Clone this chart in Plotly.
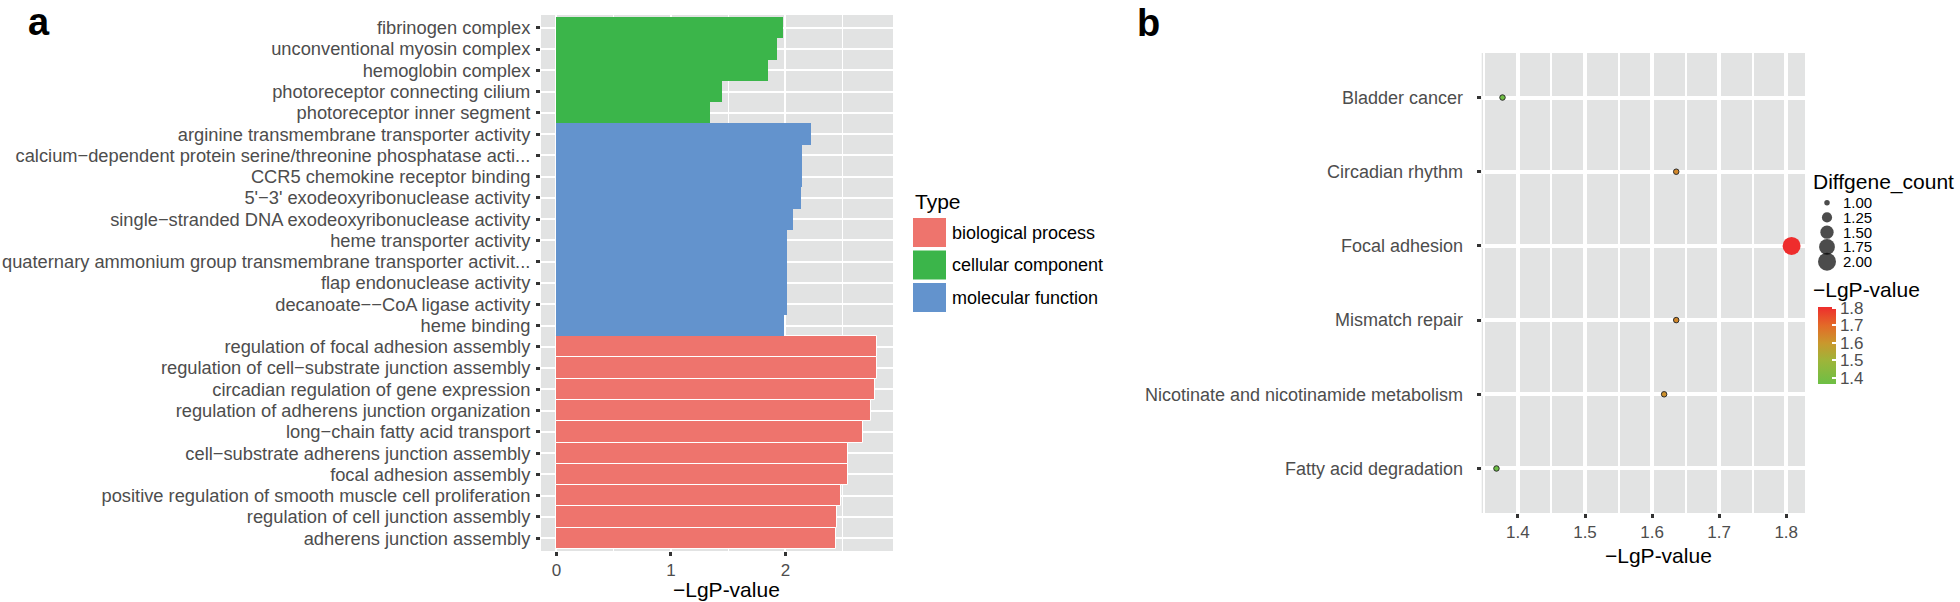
import math
import plotly.graph_objects as go

W, H = 1960, 602

# ---------------- Panel a data (GO enrichment) ----------------
go_terms = [
    "fibrinogen complex",
    "unconventional myosin complex",
    "hemoglobin complex",
    "photoreceptor connecting cilium",
    "photoreceptor inner segment",
    "arginine transmembrane transporter activity",
    "calcium\u2212dependent protein serine/threonine phosphatase acti...",
    "CCR5 chemokine receptor binding",
    "5'\u22123' exodeoxyribonuclease activity",
    "single\u2212stranded DNA exodeoxyribonuclease activity",
    "heme transporter activity",
    "quaternary ammonium group transmembrane transporter activit...",
    "flap endonuclease activity",
    "decanoate\u2212\u2212CoA ligase activity",
    "heme binding",
    "regulation of focal adhesion assembly",
    "regulation of cell\u2212substrate junction assembly",
    "circadian regulation of gene expression",
    "regulation of adherens junction organization",
    "long\u2212chain fatty acid transport",
    "cell\u2212substrate adherens junction assembly",
    "focal adhesion assembly",
    "positive regulation of smooth muscle cell proliferation",
    "regulation of cell junction assembly",
    "adherens junction assembly",
]
go_types = [
    "cellular component", "cellular component", "cellular component",
    "cellular component", "cellular component",
    "molecular function", "molecular function", "molecular function",
    "molecular function", "molecular function", "molecular function",
    "molecular function", "molecular function", "molecular function",
    "molecular function",
    "biological process", "biological process", "biological process",
    "biological process", "biological process", "biological process",
    "biological process", "biological process", "biological process",
    "biological process",
]
go_values = [1.98, 1.93, 1.85, 1.45, 1.345,
             2.225, 2.145, 2.145, 2.14, 2.07, 2.015, 2.015, 2.015, 2.015, 1.99,
             2.80, 2.80, 2.785, 2.75, 2.675, 2.545, 2.545, 2.49, 2.455, 2.44]
type_order = ["biological process", "cellular component", "molecular function"]
a_xticks = [0, 1, 2]

# ---------------- Panel b data (KEGG pathways) ----------------
pathways = ["Bladder cancer", "Circadian rhythm", "Focal adhesion", "Mismatch repair",
            "Nicotinate and nicotinamide metabolism", "Fatty acid degradation"]
path_lgp = [1.377, 1.636, 1.808, 1.636, 1.618, 1.368]
path_count = [1, 1, 2, 1, 1, 1]
size_breaks = [1.00, 1.25, 1.50, 1.75, 2.00]
b_xticks = [1.4, 1.5, 1.6, 1.7, 1.8]
color_ticks = [1.4, 1.5, 1.6, 1.7, 1.8]

# ---------------- styles ----------------
FONT = "Liberation Sans, Arial, sans-serif"
TICK_GREY = "#4d4d4d"
PANEL_BG = "#E2E3E3"
type_colors = {"biological process": "#EE746D",
               "cellular component": "#3BB54A",
               "molecular function": "#6393CD"}
colorscale = [[0.0, "#6DBF45"], [0.3, "#9DB53A"], [0.53, "#C9982D"],
              [0.76, "#E36A28"], [1.0, "#EE2D2D"]]


def px(x):
    return x / W


def py(y):
    return 1 - y / H


D_MIN, D_MAX = 5.5, 18.0
c_lo, c_hi = min(size_breaks), max(size_breaks)


def size_of(c):
    return math.sqrt(D_MIN ** 2 + (D_MAX ** 2 - D_MIN ** 2) * (c - c_lo) / (c_hi - c_lo))


fig = go.Figure()

# ---- panel a bars ----
for t in type_order:
    ys = [g for g, tt in zip(go_terms, go_types) if tt == t]
    xs = [v for v, tt in zip(go_values, go_types) if tt == t]
    fig.add_trace(go.Bar(
        y=ys, x=xs, orientation="h", width=1, name=t,
        marker=dict(color=type_colors[t],
                    line=dict(color="white", width=1 if t == "biological process" else 0)),
        xaxis="x", yaxis="y", showlegend=False, hoverinfo="x+y"))

# ---- panel b points ----
cmin, cmax = min(path_lgp), max(path_lgp)
fig.add_trace(go.Scatter(
    x=path_lgp, y=pathways, mode="markers", xaxis="x2", yaxis="y2", showlegend=False,
    cliponaxis=False,
    marker=dict(size=[size_of(c) for c in path_count], color=path_lgp,
                colorscale=colorscale, cmin=cmin, cmax=cmax,
                line=dict(color="#2a2a2a", width=[1 if c == c_lo else 0 for c in path_count]),
                opacity=1,
                colorbar=dict(x=px(1817.7), xanchor="left", xpad=0, ypad=0,
                              thickness=18, thicknessmode="pixels",
                              len=77, lenmode="pixels", y=py(345), yanchor="middle",
                              tickvals=color_ticks, ticktext=[f"{v:.1f}" for v in color_ticks],
                              ticks="inside", ticklen=4, tickwidth=1.5, tickcolor="white",
                              outlinewidth=0,
                              tickfont=dict(family=FONT, size=17, color=TICK_GREY))),
    hoverinfo="x+y"))

# ---- size legend for panel b ----
fig.add_trace(go.Scatter(
    x=[0] * len(size_breaks), y=size_breaks, mode="markers", xaxis="x3", yaxis="y3",
    showlegend=False, hoverinfo="skip", cliponaxis=False,
    marker=dict(size=[size_of(c) for c in size_breaks], color="black", line=dict(width=0))))

a_dom_x = [px(541), px(893)]
a_dom_y = [py(551), py(15)]
b_dom_x = [px(1481.7), px(1805)]
b_dom_y = [py(513), py(53)]

common_tick = dict(ticks="outside", ticklen=4, tickwidth=2.5, tickcolor="#333333",
                   zeroline=False, showline=False)

fig.update_layout(
    width=W, height=H, margin=dict(l=0, r=0, t=0, b=0),
    paper_bgcolor="white", plot_bgcolor="rgba(0,0,0,0)",
    barmode="overlay", bargap=0,
    font=dict(family=FONT, color="black"),
    xaxis=dict(domain=a_dom_x, anchor="y", range=[-0.135, 2.94], tickvals=a_xticks,
               showgrid=True, gridcolor="white", gridwidth=2,
               minor=dict(tickvals=[0.5, 1.5, 2.5], showgrid=True, gridcolor="white",
                          gridwidth=1, ticks=""),
               tickfont=dict(family=FONT, size=17, color=TICK_GREY),
               **common_tick),
    yaxis=dict(domain=a_dom_y, anchor="x", type="category",
               categoryorder="array", categoryarray=go_terms,
               tickmode="array", tickvals=go_terms, ticktext=go_terms,
               range=[len(go_terms) - 0.4, -0.6],
               showgrid=True, gridcolor="white", gridwidth=2,
               ticklabelstandoff=2,
               tickfont=dict(family=FONT, size=18.3, color=TICK_GREY),
               **common_tick),
    xaxis2=dict(domain=b_dom_x, anchor="y2", range=[1.346, 1.828], tickvals=b_xticks,
                ticktext=[f"{v:.1f}" for v in b_xticks],
                showgrid=True, gridcolor="white", gridwidth=3.5,
                minor=dict(tickvals=[1.35, 1.45, 1.55, 1.65, 1.75], showgrid=True,
                           gridcolor="white", gridwidth=2, ticks=""),
                tickfont=dict(family=FONT, size=17, color=TICK_GREY),
                **common_tick),
    yaxis2=dict(domain=b_dom_y, anchor="x2", type="category",
                categoryorder="array", categoryarray=pathways,
                tickmode="array", tickvals=pathways, ticktext=pathways,
                range=[len(pathways) - 0.4, -0.6],
                showgrid=True, gridcolor="white", gridwidth=3.5,
                ticklabelstandoff=10,
                tickfont=dict(family=FONT, size=18, color=TICK_GREY),
                **common_tick),
    xaxis3=dict(domain=[px(1817), px(1837)], anchor="y3", range=[-1, 1], visible=False,
                fixedrange=True),
    yaxis3=dict(domain=[py(261.7), py(202.7)], anchor="x3", range=[2.0, 1.0], visible=False,
                fixedrange=True),
)

shapes = [
    dict(type="rect", xref="x domain", yref="y domain", x0=0, x1=1, y0=0, y1=1,
         fillcolor=PANEL_BG, line=dict(width=0), layer="below"),
    dict(type="rect", xref="x2 domain", yref="y2 domain", x0=0, x1=1, y0=0, y1=1,
         fillcolor=PANEL_BG, line=dict(width=0), layer="below"),
]
annotations = [
    dict(text="<b>a</b>", x=px(26), y=py(22), xanchor="left", yanchor="middle",
         font=dict(family=FONT, size=38, color="black")),
    dict(text="<b>b</b>", x=px(1135), y=py(23), xanchor="left", yanchor="middle",
         font=dict(family=FONT, size=38, color="black")),
    dict(text="\u2212LgP-value", x=px(726), y=py(589), xanchor="center", yanchor="middle",
         font=dict(family=FONT, size=21, color="black")),
    dict(text="\u2212LgP-value", x=px(1658), y=py(555), xanchor="center", yanchor="middle",
         font=dict(family=FONT, size=21, color="black")),
    dict(text="Type", x=px(913), y=py(201), xanchor="left", yanchor="middle",
         font=dict(family=FONT, size=21, color="black")),
    dict(text="Diffgene_count", x=px(1811), y=py(182), xanchor="left", yanchor="middle",
         font=dict(family=FONT, size=21, color="black")),
    dict(text="\u2212LgP-value", x=px(1811), y=py(289), xanchor="left", yanchor="middle",
         font=dict(family=FONT, size=21, color="black")),
]
# Type legend (panel a)
key_tops = [218, 250.5, 283]
for t, top in zip(type_order, key_tops):
    shapes.append(dict(type="rect", xref="paper", yref="paper",
                       x0=px(913), x1=px(946), y0=py(top + 29), y1=py(top),
                       fillcolor=type_colors[t], line=dict(width=0)))
    annotations.append(dict(text=t, x=px(950), y=py(top + 14.5), xanchor="left",
                            yanchor="middle",
                            font=dict(family=FONT, size=18, color="black")))
# Size legend labels (panel b)
for v in size_breaks:
    annotations.append(dict(text=f"{v:.2f}", xref="x3 domain", yref="y3",
                            x=1.2, y=v, xanchor="left", yanchor="middle",
                            font=dict(family=FONT, size=15, color="black")))
for a in annotations:
    a.setdefault("xref", "paper")
    a.setdefault("yref", "paper")
    a["showarrow"] = False

fig.update_layout(shapes=shapes, annotations=annotations)
fig.write_html("out.html", config={"displayModeBar": False},
               post_script="document.body.style.margin='0';document.body.style.overflow='hidden';")
